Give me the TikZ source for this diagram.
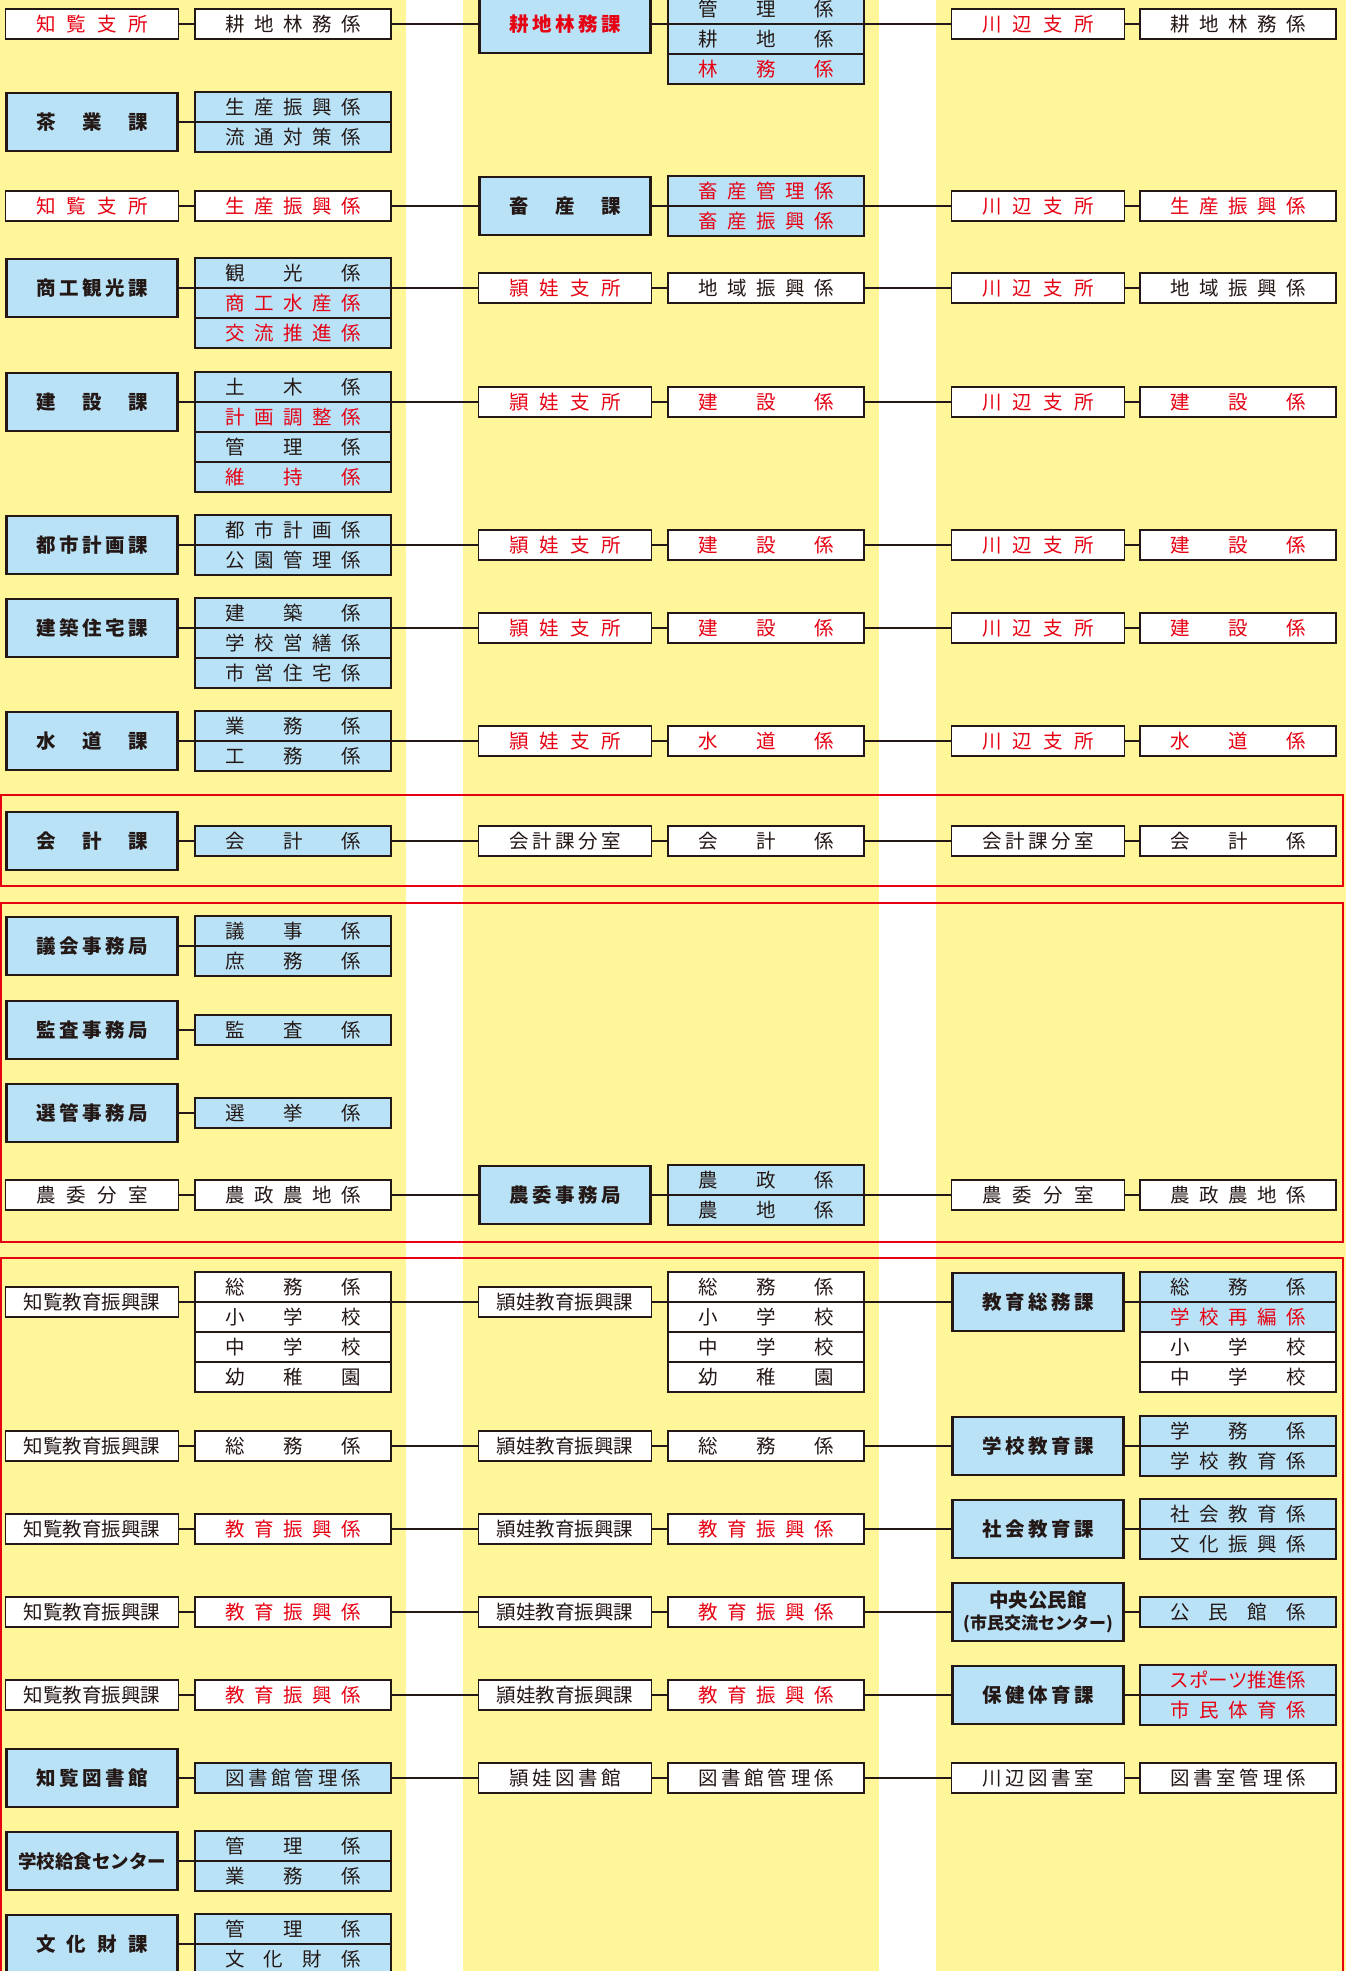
\documentclass[tikz,border=0pt]{standalone}
\usepackage{fontspec}
\setmainfont{Noto Sans CJK JP}
\usepackage{tikz}
\usepackage{xcolor}
\definecolor{ink}{RGB}{35,24,21}
\definecolor{jred}{RGB}{230,0,18}
\definecolor{sky}{RGB}{186,226,247}
\definecolor{band}{RGB}{255,246,153}
\def\spreadA#1{#1\spreadB}
\def\spreadB#1{\ifx\relax#1\else\hfill#1\expandafter\spreadB\fi}
\newcommand\wsub[1]{\makebox[136pt][s]{\spreadA#1\relax}}
\newcommand\wdep[1]{\makebox[112pt][s]{\spreadA#1\relax}}

\begin{document}
\begin{tikzpicture}[x=1pt,y=-1pt,
  box/.style={draw=ink,line width=1.3pt,inner sep=0pt,minimum height=30pt,text=ink,font=\fontsize{19.5}{23}\selectfont},
  dept/.style={box,fill=sky,line width=2.8pt,minimum width=171pt,minimum height=58pt,font=\fontsize{19.5}{23}\selectfont\bfseries},
  unit/.style={box,fill=white,minimum width=173pt},
  sect/.style={box,fill=white,minimum width=196pt},
  sectb/.style={sect,fill=sky},
  rtxt/.style={text=jred},
  link/.style={draw=ink,line width=1.2pt},
  frame/.style={draw=jred,line width=2.6pt}]
\useasboundingbox (0,0) rectangle (1346,1971);
\clip (0,0) rectangle (1346,1971);
\fill[band] (0,0) rectangle (406,1971);
\fill[band] (463,0) rectangle (879,1971);
\fill[band] (936,0) rectangle (1346,1971);
\draw[frame] (1,795) rectangle (1343,886);
\draw[frame] (1,903) rectangle (1343,1242);
\draw[frame] (1,1995) |- (1343,1258) -- (1343,1995);

\node[unit,rtxt] (a1) at (92,24) {\wdep{知覧支所}};
\node[sect] (a1s1) at (293,24) {\wsub{耕地林務係}};
\node[dept,rtxt] (b1) at (565,24) {\wdep{耕地林務課}};
\node[sectb] (b1s1) at (766,9) {\wsub{管理係}};
\node[sectb] (b1s2) at (766,39) {\wsub{耕地係}};
\node[sectb,rtxt] (b1s3) at (766,69) {\wsub{林務係}};
\node[unit,rtxt] (c1) at (1038,24) {\wdep{川辺支所}};
\node[sect] (c1s1) at (1238,24) {\wsub{耕地林務係}};
\draw[link] (a1) -- (a1s1);
\draw[link] (a1s1) -- (b1);
\draw[link] (b1.east) -- (b1.east -| b1s1.west);
\draw[link] (b1.east -| b1s1.east) -- (c1);
\draw[link] (c1) -- (c1s1);

\node[dept] (a2) at (92,122) {\wdep{茶業課}};
\node[sectb] (a2s1) at (293,107) {\wsub{生産振興係}};
\node[sectb] (a2s2) at (293,137) {\wsub{流通対策係}};
\draw[link] (a2.east) -- (a2.east -| a2s1.west);

\node[unit,rtxt] (a3) at (92,206) {\wdep{知覧支所}};
\node[sect,rtxt] (a3s1) at (293,206) {\wsub{生産振興係}};
\node[dept] (b3) at (565,206) {\wdep{畜産課}};
\node[sectb,rtxt] (b3s1) at (766,191) {\wsub{畜産管理係}};
\node[sectb,rtxt] (b3s2) at (766,221) {\wsub{畜産振興係}};
\node[unit,rtxt] (c3) at (1038,206) {\wdep{川辺支所}};
\node[sect,rtxt] (c3s1) at (1238,206) {\wsub{生産振興係}};
\draw[link] (a3) -- (a3s1);
\draw[link] (a3s1) -- (b3);
\draw[link] (b3.east) -- (b3.east -| b3s1.west);
\draw[link] (b3.east -| b3s1.east) -- (c3);
\draw[link] (c3) -- (c3s1);

\node[dept] (a4) at (92,288) {\wdep{商工観光課}};
\node[sectb] (a4s1) at (293,273) {\wsub{観光係}};
\node[sectb,rtxt] (a4s2) at (293,303) {\wsub{商工水産係}};
\node[sectb,rtxt] (a4s3) at (293,333) {\wsub{交流推進係}};
\node[unit,rtxt] (b4) at (565,288) {\wdep{頴娃支所}};
\node[sect] (b4s1) at (766,288) {\wsub{地域振興係}};
\node[unit,rtxt] (c4) at (1038,288) {\wdep{川辺支所}};
\node[sect] (c4s1) at (1238,288) {\wsub{地域振興係}};
\draw[link] (a4.east) -- (a4.east -| a4s1.west);
\draw[link] (a4.east -| a4s1.east) -- (b4);
\draw[link] (b4) -- (b4s1);
\draw[link] (b4s1) -- (c4);
\draw[link] (c4) -- (c4s1);

\node[dept] (a5) at (92,402) {\wdep{建設課}};
\node[sectb] (a5s1) at (293,387) {\wsub{土木係}};
\node[sectb,rtxt] (a5s2) at (293,417) {\wsub{計画調整係}};
\node[sectb] (a5s3) at (293,447) {\wsub{管理係}};
\node[sectb,rtxt] (a5s4) at (293,477) {\wsub{維持係}};
\node[unit,rtxt] (b5) at (565,402) {\wdep{頴娃支所}};
\node[sect,rtxt] (b5s1) at (766,402) {\wsub{建設係}};
\node[unit,rtxt] (c5) at (1038,402) {\wdep{川辺支所}};
\node[sect,rtxt] (c5s1) at (1238,402) {\wsub{建設係}};
\draw[link] (a5.east) -- (a5.east -| a5s1.west);
\draw[link] (a5.east -| a5s1.east) -- (b5);
\draw[link] (b5) -- (b5s1);
\draw[link] (b5s1) -- (c5);
\draw[link] (c5) -- (c5s1);

\node[dept] (a6) at (92,545) {\wdep{都市計画課}};
\node[sectb] (a6s1) at (293,530) {\wsub{都市計画係}};
\node[sectb] (a6s2) at (293,560) {\wsub{公園管理係}};
\node[unit,rtxt] (b6) at (565,545) {\wdep{頴娃支所}};
\node[sect,rtxt] (b6s1) at (766,545) {\wsub{建設係}};
\node[unit,rtxt] (c6) at (1038,545) {\wdep{川辺支所}};
\node[sect,rtxt] (c6s1) at (1238,545) {\wsub{建設係}};
\draw[link] (a6.east) -- (a6.east -| a6s1.west);
\draw[link] (a6.east -| a6s1.east) -- (b6);
\draw[link] (b6) -- (b6s1);
\draw[link] (b6s1) -- (c6);
\draw[link] (c6) -- (c6s1);

\node[dept] (a7) at (92,628) {\wdep{建築住宅課}};
\node[sectb] (a7s1) at (293,613) {\wsub{建築係}};
\node[sectb] (a7s2) at (293,643) {\wsub{学校営繕係}};
\node[sectb] (a7s3) at (293,673) {\wsub{市営住宅係}};
\node[unit,rtxt] (b7) at (565,628) {\wdep{頴娃支所}};
\node[sect,rtxt] (b7s1) at (766,628) {\wsub{建設係}};
\node[unit,rtxt] (c7) at (1038,628) {\wdep{川辺支所}};
\node[sect,rtxt] (c7s1) at (1238,628) {\wsub{建設係}};
\draw[link] (a7.east) -- (a7.east -| a7s1.west);
\draw[link] (a7.east -| a7s1.east) -- (b7);
\draw[link] (b7) -- (b7s1);
\draw[link] (b7s1) -- (c7);
\draw[link] (c7) -- (c7s1);

\node[dept] (a8) at (92,741) {\wdep{水道課}};
\node[sectb] (a8s1) at (293,726) {\wsub{業務係}};
\node[sectb] (a8s2) at (293,756) {\wsub{工務係}};
\node[unit,rtxt] (b8) at (565,741) {\wdep{頴娃支所}};
\node[sect,rtxt] (b8s1) at (766,741) {\wsub{水道係}};
\node[unit,rtxt] (c8) at (1038,741) {\wdep{川辺支所}};
\node[sect,rtxt] (c8s1) at (1238,741) {\wsub{水道係}};
\draw[link] (a8.east) -- (a8.east -| a8s1.west);
\draw[link] (a8.east -| a8s1.east) -- (b8);
\draw[link] (b8) -- (b8s1);
\draw[link] (b8s1) -- (c8);
\draw[link] (c8) -- (c8s1);

\node[dept] (a9) at (92,841) {\wdep{会計課}};
\node[sectb] (a9s1) at (293,841) {\wsub{会計係}};
\node[unit] (b9) at (565,841) {\wdep{会計課分室}};
\node[sect] (b9s1) at (766,841) {\wsub{会計係}};
\node[unit] (c9) at (1038,841) {\wdep{会計課分室}};
\node[sect] (c9s1) at (1238,841) {\wsub{会計係}};
\draw[link] (a9) -- (a9s1);
\draw[link] (a9s1) -- (b9);
\draw[link] (b9) -- (b9s1);
\draw[link] (b9s1) -- (c9);
\draw[link] (c9) -- (c9s1);

\node[dept] (a10) at (92,946) {\wdep{議会事務局}};
\node[sectb] (a10s1) at (293,931) {\wsub{議事係}};
\node[sectb] (a10s2) at (293,961) {\wsub{庶務係}};
\draw[link] (a10.east) -- (a10.east -| a10s1.west);

\node[dept] (a11) at (92,1030) {\wdep{監査事務局}};
\node[sectb] (a11s1) at (293,1030) {\wsub{監査係}};
\draw[link] (a11) -- (a11s1);

\node[dept] (a12) at (92,1113) {\wdep{選管事務局}};
\node[sectb] (a12s1) at (293,1113) {\wsub{選挙係}};
\draw[link] (a12) -- (a12s1);

\node[unit] (a13) at (92,1195) {\wdep{農委分室}};
\node[sect] (a13s1) at (293,1195) {\wsub{農政農地係}};
\node[dept] (b13) at (565,1195) {\wdep{農委事務局}};
\node[sectb] (b13s1) at (766,1180) {\wsub{農政係}};
\node[sectb] (b13s2) at (766,1210) {\wsub{農地係}};
\node[unit] (c13) at (1038,1195) {\wdep{農委分室}};
\node[sect] (c13s1) at (1238,1195) {\wsub{農政農地係}};
\draw[link] (a13) -- (a13s1);
\draw[link] (a13s1) -- (b13);
\draw[link] (b13.east) -- (b13.east -| b13s1.west);
\draw[link] (b13.east -| b13s1.east) -- (c13);
\draw[link] (c13) -- (c13s1);

\node[unit] (a14) at (92,1302) {知覧教育振興課};
\node[sect] (a14s1) at (293,1287) {\wsub{総務係}};
\node[sect] (a14s2) at (293,1317) {\wsub{小学校}};
\node[sect] (a14s3) at (293,1347) {\wsub{中学校}};
\node[sect] (a14s4) at (293,1377) {\wsub{幼稚園}};
\node[unit] (b14) at (565,1302) {頴娃教育振興課};
\node[sect] (b14s1) at (766,1287) {\wsub{総務係}};
\node[sect] (b14s2) at (766,1317) {\wsub{小学校}};
\node[sect] (b14s3) at (766,1347) {\wsub{中学校}};
\node[sect] (b14s4) at (766,1377) {\wsub{幼稚園}};
\node[dept] (c14) at (1038,1302) {\wdep{教育総務課}};
\node[sectb] (c14s1) at (1238,1287) {\wsub{総務係}};
\node[sectb,rtxt] (c14s2) at (1238,1317) {\wsub{学校再編係}};
\node[sect] (c14s3) at (1238,1347) {\wsub{小学校}};
\node[sect] (c14s4) at (1238,1377) {\wsub{中学校}};
\draw[link] (a14.east) -- (a14.east -| a14s1.west);
\draw[link] (a14.east -| a14s1.east) -- (b14);
\draw[link] (b14.east) -- (b14.east -| b14s1.west);
\draw[link] (b14.east -| b14s1.east) -- (c14);
\draw[link] (c14.east) -- (c14.east -| c14s1.west);

\node[unit] (a15) at (92,1446) {知覧教育振興課};
\node[sect] (a15s1) at (293,1446) {\wsub{総務係}};
\node[unit] (b15) at (565,1446) {頴娃教育振興課};
\node[sect] (b15s1) at (766,1446) {\wsub{総務係}};
\node[dept] (c15) at (1038,1446) {\wdep{学校教育課}};
\node[sectb] (c15s1) at (1238,1431) {\wsub{学務係}};
\node[sectb] (c15s2) at (1238,1461) {\wsub{学校教育係}};
\draw[link] (a15) -- (a15s1);
\draw[link] (a15s1) -- (b15);
\draw[link] (b15) -- (b15s1);
\draw[link] (b15s1) -- (c15);
\draw[link] (c15.east) -- (c15.east -| c15s1.west);

\node[unit] (a16) at (92,1529) {知覧教育振興課};
\node[sect,rtxt] (a16s1) at (293,1529) {\wsub{教育振興係}};
\node[unit] (b16) at (565,1529) {頴娃教育振興課};
\node[sect,rtxt] (b16s1) at (766,1529) {\wsub{教育振興係}};
\node[dept] (c16) at (1038,1529) {\wdep{社会教育課}};
\node[sectb] (c16s1) at (1238,1514) {\wsub{社会教育係}};
\node[sectb] (c16s2) at (1238,1544) {\wsub{文化振興係}};
\draw[link] (a16) -- (a16s1);
\draw[link] (a16s1) -- (b16);
\draw[link] (b16) -- (b16s1);
\draw[link] (b16s1) -- (c16);
\draw[link] (c16.east) -- (c16.east -| c16s1.west);

\node[unit] (a17) at (92,1612) {知覧教育振興課};
\node[sect,rtxt] (a17s1) at (293,1612) {\wsub{教育振興係}};
\node[unit] (b17) at (565,1612) {頴娃教育振興課};
\node[sect,rtxt] (b17s1) at (766,1612) {\wsub{教育振興係}};
\node[dept,align=center] (c17) at (1038,1612) {中央公民館\\[-1pt]{\fontsize{17}{20}\selectfont(市民交流センター)}};
\node[sectb] (c17s1) at (1238,1612) {\wsub{公民館係}};
\draw[link] (a17) -- (a17s1);
\draw[link] (a17s1) -- (b17);
\draw[link] (b17) -- (b17s1);
\draw[link] (b17s1) -- (c17);
\draw[link] (c17) -- (c17s1);

\node[unit] (a18) at (92,1695) {知覧教育振興課};
\node[sect,rtxt] (a18s1) at (293,1695) {\wsub{教育振興係}};
\node[unit] (b18) at (565,1695) {頴娃教育振興課};
\node[sect,rtxt] (b18s1) at (766,1695) {\wsub{教育振興係}};
\node[dept] (c18) at (1038,1695) {\wdep{保健体育課}};
\node[sectb,rtxt] (c18s1) at (1238,1680) {スポーツ推進係};
\node[sectb,rtxt] (c18s2) at (1238,1710) {\wsub{市民体育係}};
\draw[link] (a18) -- (a18s1);
\draw[link] (a18s1) -- (b18);
\draw[link] (b18) -- (b18s1);
\draw[link] (b18s1) -- (c18);
\draw[link] (c18.east) -- (c18.east -| c18s1.west);

\node[dept] (a19) at (92,1778) {\wdep{知覧図書館}};
\node[sectb] (a19s1) at (293,1778) {\wsub{図書館管理係}};
\node[unit] (b19) at (565,1778) {\wdep{頴娃図書館}};
\node[sect] (b19s1) at (766,1778) {\wsub{図書館管理係}};
\node[unit] (c19) at (1038,1778) {\wdep{川辺図書室}};
\node[sect] (c19s1) at (1238,1778) {\wsub{図書室管理係}};
\draw[link] (a19) -- (a19s1);
\draw[link] (a19s1) -- (b19);
\draw[link] (b19) -- (b19s1);
\draw[link] (b19s1) -- (c19);
\draw[link] (c19) -- (c19s1);

\node[dept] (a20) at (92,1861) {{\fontsize{18.5}{22}\selectfont 学校給食センター}};
\node[sectb] (a20s1) at (293,1846) {\wsub{管理係}};
\node[sectb] (a20s2) at (293,1876) {\wsub{業務係}};
\draw[link] (a20.east) -- (a20.east -| a20s1.west);

\node[dept] (a21) at (92,1944) {\wdep{文化財課}};
\node[sectb] (a21s1) at (293,1929) {\wsub{管理係}};
\node[sectb] (a21s2) at (293,1959) {\wsub{文化財係}};
\draw[link] (a21.east) -- (a21.east -| a21s1.west);
\end{tikzpicture}
\end{document}
